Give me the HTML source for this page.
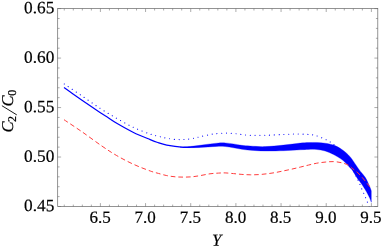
<!DOCTYPE html>
<html><head><meta charset="utf-8"><title>plot</title>
<style>
html,body{margin:0;padding:0;background:#fff;}
body{width:382px;height:251px;position:relative;overflow:hidden;font-family:"Liberation Serif",serif;}
</style></head><body>
<svg width="382" height="251" viewBox="0 0 382 251" style="position:absolute;left:0;top:0;will-change:transform">
<defs><clipPath id="c"><rect x="57.7" y="8.6" width="320.1" height="197.9"/></clipPath></defs>
<g clip-path="url(#c)" fill="none">
<path d="M180.00 147.10 C181.00 147.05 184.00 146.93 186.00 146.80 C188.00 146.67 189.67 146.55 192.00 146.30 C194.33 146.05 197.33 145.65 200.00 145.30 C202.67 144.95 205.21 144.55 208.00 144.20 C210.79 143.85 213.90 143.42 216.75 143.20 C219.60 142.98 222.31 142.78 225.10 142.90 C227.89 143.02 230.70 143.49 233.50 143.90 C236.30 144.31 239.11 144.99 241.90 145.35 C244.69 145.71 246.40 145.84 250.25 146.05 C254.10 146.26 259.46 146.76 265.00 146.60 C270.54 146.44 277.62 145.68 283.50 145.10 C289.38 144.52 296.10 143.52 300.25 143.10 C304.40 142.68 305.65 142.71 308.40 142.60 C311.15 142.49 313.97 142.35 316.75 142.45 C319.53 142.55 322.31 142.76 325.10 143.20 C327.89 143.64 330.70 144.05 333.50 145.10 C336.30 146.15 339.11 147.53 341.90 149.50 C344.69 151.47 347.47 153.67 350.25 156.90 C353.03 160.13 356.08 165.45 358.60 168.90 C361.12 172.35 363.50 174.53 365.40 177.60 C367.30 180.67 369.02 185.08 370.00 187.30 C370.98 189.52 371.08 190.30 371.30 190.90 L371.30 202.30 C371.17 201.92 370.93 201.05 370.50 200.00 C370.07 198.95 369.35 197.33 368.70 196.00 C368.05 194.67 367.35 193.33 366.60 192.00 C365.85 190.67 365.03 189.33 364.20 188.00 C363.37 186.67 362.53 185.33 361.60 184.00 C360.67 182.67 359.30 180.93 358.60 180.00 C357.90 179.07 358.45 180.03 357.40 178.40 C356.35 176.77 353.49 171.93 352.30 170.20 C351.11 168.47 351.78 169.62 350.25 168.00 C348.72 166.38 345.89 162.75 343.10 160.50 C340.31 158.25 336.50 156.08 333.50 154.50 C330.50 152.92 327.89 151.83 325.10 151.00 C322.31 150.17 319.53 149.77 316.75 149.50 C313.97 149.23 311.15 149.35 308.40 149.40 C305.65 149.45 304.40 149.58 300.25 149.80 C296.10 150.02 289.38 150.50 283.50 150.70 C277.62 150.90 270.54 151.08 265.00 151.00 C259.46 150.92 254.10 150.48 250.25 150.20 C246.40 149.92 244.69 149.70 241.90 149.30 C239.11 148.90 236.30 148.27 233.50 147.80 C230.70 147.33 227.89 146.73 225.10 146.50 C222.31 146.27 219.60 146.32 216.75 146.40 C213.90 146.48 210.79 146.82 208.00 147.00 C205.21 147.18 202.67 147.40 200.00 147.50 C197.33 147.60 194.33 147.60 192.00 147.60 C189.67 147.60 188.00 147.58 186.00 147.50 C184.00 147.42 181.00 147.17 180.00 147.10 Z" fill="#00f" stroke="#00f" stroke-width="0.3" stroke-linejoin="round"/>
<path d="M64.00 87.60 C65.50 88.66 70.00 91.85 73.00 93.95 C76.00 96.05 77.50 97.11 82.00 100.20 C86.50 103.29 95.68 109.60 100.00 112.50 C104.32 115.40 105.11 115.80 107.90 117.60 C110.69 119.40 112.48 120.82 116.75 123.30 C121.02 125.78 127.92 129.78 133.50 132.50 C139.08 135.22 146.33 137.98 150.25 139.60 C154.17 141.22 154.25 141.28 157.00 142.20 C159.75 143.12 162.33 144.25 166.75 145.10 C171.17 145.95 179.04 146.97 183.50 147.30 C187.96 147.63 190.71 147.25 193.50 147.10 C196.29 146.95 199.12 146.52 200.25 146.40" stroke="#00f" stroke-width="1.2"/>
<path d="M64.30 84.00 C67.25 85.99 76.05 91.90 82.00 95.95 C87.95 100.00 94.21 104.56 100.00 108.30 C105.79 112.04 111.17 115.22 116.75 118.40 C122.33 121.58 127.92 124.78 133.50 127.40 C139.08 130.02 145.78 132.53 150.25 134.10 C154.72 135.67 157.55 136.10 160.30 136.80 C163.05 137.50 164.28 137.87 166.75 138.30 C169.22 138.73 172.31 139.20 175.10 139.40 C177.89 139.60 180.70 139.63 183.50 139.50 C186.30 139.37 189.11 139.07 191.90 138.60 C194.69 138.13 196.90 137.43 200.25 136.70 C203.60 135.97 209.25 134.72 212.00 134.20 C214.75 133.68 214.57 133.78 216.75 133.60 C218.93 133.42 222.31 133.12 225.10 133.10 C227.89 133.08 230.70 133.27 233.50 133.50 C236.30 133.73 239.11 134.20 241.90 134.50 C244.69 134.80 246.11 135.18 250.25 135.30 C254.39 135.42 261.21 135.33 266.75 135.20 C272.29 135.07 278.76 134.70 283.50 134.50 C288.24 134.30 291.57 134.05 295.20 134.00 C298.83 133.95 302.55 134.07 305.30 134.20 C308.05 134.32 309.79 134.47 311.70 134.75 C313.61 135.03 314.52 135.14 316.75 135.90 C318.98 136.66 322.86 138.28 325.10 139.30 C327.34 140.32 328.80 141.17 330.20 142.00 C331.60 142.83 331.55 142.63 333.50 144.30 C335.45 145.97 339.15 148.72 341.90 152.00 C344.65 155.28 347.82 160.28 350.00 164.00 C352.18 167.72 353.67 171.63 355.00 174.30 C356.33 176.97 357.23 178.45 358.00 180.00 C358.77 181.55 359.03 182.27 359.60 183.60 C360.17 184.93 360.77 186.53 361.40 188.00 C362.03 189.47 362.77 190.93 363.40 192.40 C364.03 193.87 364.60 195.33 365.20 196.80 C365.80 198.27 366.40 199.73 367.00 201.20 C367.60 202.67 368.23 204.20 368.80 205.60 C369.37 207.00 370.13 208.93 370.40 209.60" stroke="#00f" stroke-width="1.15" stroke-dasharray="0.01 4.78" stroke-linecap="round"/>
<path d="M64.00 119.70 C67.00 121.72 75.72 127.43 82.00 131.80 C88.28 136.17 95.91 141.93 101.70 145.90 C107.49 149.87 111.45 152.53 116.75 155.60 C122.05 158.67 127.92 161.73 133.50 164.30 C139.08 166.87 146.10 169.48 150.25 171.00 C154.40 172.52 155.65 172.63 158.40 173.40 C161.15 174.17 163.97 175.03 166.75 175.60 C169.53 176.17 172.31 176.55 175.10 176.80 C177.89 177.05 180.70 177.10 183.50 177.10 C186.30 177.10 189.11 177.05 191.90 176.80 C194.69 176.55 197.23 176.10 200.25 175.60 C203.27 175.10 206.97 174.22 210.00 173.80 C213.03 173.38 215.88 173.25 218.40 173.10 C220.92 172.95 222.58 172.82 225.10 172.90 C227.62 172.98 230.70 173.35 233.50 173.60 C236.30 173.85 239.11 174.20 241.90 174.40 C244.69 174.60 247.47 174.77 250.25 174.80 C253.03 174.83 255.85 174.77 258.60 174.60 C261.35 174.43 264.00 174.13 266.75 173.80 C269.50 173.47 272.31 173.08 275.10 172.60 C277.89 172.12 280.70 171.48 283.50 170.90 C286.30 170.32 289.11 169.73 291.90 169.10 C294.69 168.47 297.50 167.77 300.25 167.10 C303.00 166.43 305.65 165.75 308.40 165.10 C311.15 164.45 313.97 163.70 316.75 163.20 C319.53 162.70 322.31 162.37 325.10 162.10 C327.89 161.83 330.70 161.48 333.50 161.60 C336.30 161.72 339.38 162.18 341.90 162.80 C344.42 163.42 346.87 164.37 348.60 165.30 C350.33 166.23 350.75 167.15 352.30 168.40 C353.85 169.65 356.03 171.03 357.90 172.80 C359.77 174.57 361.73 176.95 363.50 179.00 C365.27 181.05 367.18 183.40 368.50 185.10 C369.82 186.80 370.92 188.52 371.40 189.20" stroke="#ff3c3c" stroke-width="1.0" stroke-dasharray="4.7 2.92"/>
</g>
<g stroke="#666" stroke-width="0.7" fill="none">
<rect x="57.70" y="8.60" width="320.10" height="197.90"/>
<path d="M64.27 206.50v-1.90M64.27 8.60v1.90M73.30 206.50v-1.90M73.30 8.60v1.90M82.33 206.50v-1.90M82.33 8.60v1.90M91.37 206.50v-1.90M91.37 8.60v1.90M100.40 206.50v-3.40M100.40 8.60v3.40M109.43 206.50v-1.90M109.43 8.60v1.90M118.47 206.50v-1.90M118.47 8.60v1.90M127.50 206.50v-1.90M127.50 8.60v1.90M136.53 206.50v-1.90M136.53 8.60v1.90M145.56 206.50v-3.40M145.56 8.60v3.40M154.60 206.50v-1.90M154.60 8.60v1.90M163.63 206.50v-1.90M163.63 8.60v1.90M172.66 206.50v-1.90M172.66 8.60v1.90M181.70 206.50v-1.90M181.70 8.60v1.90M190.73 206.50v-3.40M190.73 8.60v3.40M199.76 206.50v-1.90M199.76 8.60v1.90M208.80 206.50v-1.90M208.80 8.60v1.90M217.83 206.50v-1.90M217.83 8.60v1.90M226.86 206.50v-1.90M226.86 8.60v1.90M235.90 206.50v-3.40M235.90 8.60v3.40M244.93 206.50v-1.90M244.93 8.60v1.90M253.96 206.50v-1.90M253.96 8.60v1.90M262.99 206.50v-1.90M262.99 8.60v1.90M272.03 206.50v-1.90M272.03 8.60v1.90M281.06 206.50v-3.40M281.06 8.60v3.40M290.09 206.50v-1.90M290.09 8.60v1.90M299.13 206.50v-1.90M299.13 8.60v1.90M308.16 206.50v-1.90M308.16 8.60v1.90M317.19 206.50v-1.90M317.19 8.60v1.90M326.23 206.50v-3.40M326.23 8.60v3.40M335.26 206.50v-1.90M335.26 8.60v1.90M344.29 206.50v-1.90M344.29 8.60v1.90M353.32 206.50v-1.90M353.32 8.60v1.90M362.36 206.50v-1.90M362.36 8.60v1.90M371.39 206.50v-3.40M371.39 8.60v3.40M57.70 206.50h3.40M377.80 206.50h-3.40M57.70 196.60h1.90M377.80 196.60h-1.90M57.70 186.71h1.90M377.80 186.71h-1.90M57.70 176.82h1.90M377.80 176.82h-1.90M57.70 166.92h1.90M377.80 166.92h-1.90M57.70 157.03h3.40M377.80 157.03h-3.40M57.70 147.13h1.90M377.80 147.13h-1.90M57.70 137.24h1.90M377.80 137.24h-1.90M57.70 127.34h1.90M377.80 127.34h-1.90M57.70 117.44h1.90M377.80 117.44h-1.90M57.70 107.55h3.40M377.80 107.55h-3.40M57.70 97.65h1.90M377.80 97.65h-1.90M57.70 87.76h1.90M377.80 87.76h-1.90M57.70 77.87h1.90M377.80 77.87h-1.90M57.70 67.97h1.90M377.80 67.97h-1.90M57.70 58.08h3.40M377.80 58.08h-3.40M57.70 48.18h1.90M377.80 48.18h-1.90M57.70 38.28h1.90M377.80 38.28h-1.90M57.70 28.39h1.90M377.80 28.39h-1.90M57.70 18.50h1.90M377.80 18.50h-1.90M57.70 8.60h3.40M377.80 8.60h-3.40" stroke="#666" stroke-width="0.55"/>
</g>
<g font-family="Liberation Serif, serif" font-size="17.3" fill="#000" stroke="#000" stroke-width="0.2" text-rendering="geometricPrecision">
<text x="54.3" y="211.15" text-anchor="end" transform="rotate(0.05 54.3 211.15)">0.45</text>
<text x="54.3" y="161.68" text-anchor="end" transform="rotate(0.05 54.3 161.68)">0.50</text>
<text x="54.3" y="112.20" text-anchor="end" transform="rotate(0.05 54.3 112.20)">0.55</text>
<text x="54.3" y="62.73" text-anchor="end" transform="rotate(0.05 54.3 62.73)">0.60</text>
<text x="54.3" y="13.25" text-anchor="end" transform="rotate(0.05 54.3 13.25)">0.65</text>
<text x="100.00" y="222.8" font-size="17" text-anchor="middle" transform="rotate(0.05 100.00 222.8)">6.5</text>
<text x="145.16" y="222.8" font-size="17" text-anchor="middle" transform="rotate(0.05 145.16 222.8)">7.0</text>
<text x="190.33" y="222.8" font-size="17" text-anchor="middle" transform="rotate(0.05 190.33 222.8)">7.5</text>
<text x="235.50" y="222.8" font-size="17" text-anchor="middle" transform="rotate(0.05 235.50 222.8)">8.0</text>
<text x="280.66" y="222.8" font-size="17" text-anchor="middle" transform="rotate(0.05 280.66 222.8)">8.5</text>
<text x="325.83" y="222.8" font-size="17" text-anchor="middle" transform="rotate(0.05 325.83 222.8)">9.0</text>
<text x="370.99" y="222.8" font-size="17" text-anchor="middle" transform="rotate(0.05 370.99 222.8)">9.5</text>
<text x="212.0" y="245.7" font-style="italic" font-size="17" transform="rotate(0.05 212 245.7)">Y</text>
<g transform="translate(12.8 132.5) rotate(-90)">
<text x="0" y="0" font-style="italic" font-size="16.5">C</text>
<text x="10.6" y="3.2" font-size="12">2</text>
<path d="M17.6 4.0 L26.8 -10.9" stroke="#000" stroke-width="0.9" fill="none"/>
<text x="25.9" y="0" font-style="italic" font-size="16.5">C</text>
<text x="36.7" y="3.2" font-size="12">0</text>
</g>
</g>
</svg>
</body></html>
